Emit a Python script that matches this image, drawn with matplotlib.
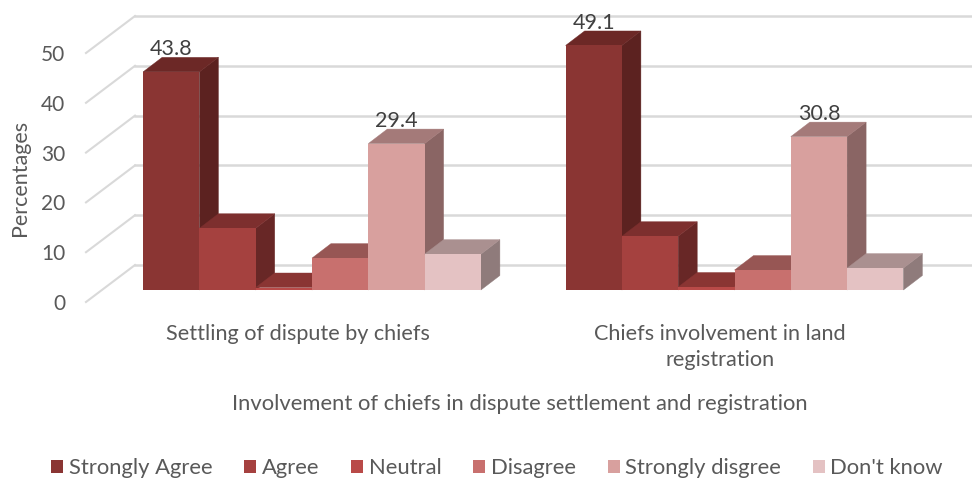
import numpy as np
import matplotlib
matplotlib.use("Agg")
import matplotlib.pyplot as plt
from matplotlib.patches import Polygon, Patch

plt.rcParams['font.family'] = ['Lato', 'DejaVu Sans']

categories = ['Settling of dispute by chiefs', 'Chiefs involvement in land\nregistration']
series = ['Strongly Agree', 'Agree', 'Neutral', 'Disagree', 'Strongly disgree', "Don't know"]
values = [
    [43.8, 49.1],
    [12.4, 10.8],
    [0.5, 0.6],
    [6.4, 4.0],
    [29.4, 30.8],
    [7.2, 4.4],
]
labelled = ['Strongly Agree', 'Strongly disgree']
y_ticks = [0, 10, 20, 30, 40, 50]

front_colors = ['#8a3533', '#a5413f', '#b94a48', '#c8706e', '#d8a09e', '#e4c2c3']
top_colors = ['#6c2826', '#7d2f2e', '#8a3533', '#975654', '#a47a79', '#aa9090']
side_colors = ['#5c2220', '#682726', '#7a2f2d', '#8a4f4d', '#8a6564', '#8f7b7b']
text_color = '#595959'
grid_color = '#d9d9d9'

W, H = 972, 479
# pixel frame of the axes: value 0 on the bar plane is y=290, 4.98 px per unit
left, right, y_base, y_bottom, y_top = 86, 972, 290, 306, 10
px_per_unit = 4.98
group_step = 422.5
bar_w = 56.3 / group_step
centre0 = (312 - left) / group_step
xlim = (-centre0, (right - left) / group_step - centre0)
ylim = (-(y_bottom - y_base) / px_per_unit, (y_base - y_top) / px_per_unit)

# 3d offsets in data units
bar_dx, bar_dy = 19 / group_step, 14.5 / px_per_unit
wall_dx, wall_back, wall_front = 49 / group_step, 5.02, -2.41
label_shift = 14.5 / group_step

fig = plt.figure(figsize=(W / 100, H / 100), dpi=100)
ax = fig.add_axes([left / W, 1 - y_bottom / H, (right - left) / W, (y_bottom - y_top) / H])
for s in ax.spines.values():
    s.set_visible(False)

# walls
for t in y_ticks:
    ax.plot([xlim[0], xlim[0] + wall_dx], [t + wall_front, t + wall_back],
            color=grid_color, lw=1.5, clip_on=False, zorder=1)
    ax.plot([xlim[0] + wall_dx, xlim[1]], [t + wall_back, t + wall_back],
            color=grid_color, lw=1.8, clip_on=False, zorder=1)

# bars
z = 2
for g in range(len(categories)):
    for i, name in enumerate(series):
        v = values[i][g]
        x = g + (i - 3) * bar_w
        ax.add_patch(Polygon([(x + bar_w, 0), (x + bar_w + bar_dx, bar_dy),
                              (x + bar_w + bar_dx, v + bar_dy), (x + bar_w, v)],
                             fc=side_colors[i], ec=side_colors[i], lw=0.3, clip_on=False, zorder=z))
        ax.add_patch(Polygon([(x, v), (x + bar_dx, v + bar_dy),
                              (x + bar_w + bar_dx, v + bar_dy), (x + bar_w, v)],
                             fc=top_colors[i], ec=top_colors[i], lw=0.3, clip_on=False, zorder=z))
        ax.bar(x, v, bar_w, align='edge', color=front_colors[i], zorder=z, clip_on=False)
        if name in labelled:
            ax.text(x + bar_w / 2, v + bar_dy - 0.4, f'{v}', ha='center', va='bottom',
                    fontsize=15.5, color='#404040', zorder=20, clip_on=False)
        z += 1

ax.set_xticks([g - label_shift for g in range(len(categories))])
ax.set_xticklabels(categories, fontsize=15.6, color=text_color, linespacing=1.35)
ax.set_yticks([t + wall_front for t in y_ticks])
ax.set_yticklabels(y_ticks, fontsize=15, color=text_color)
ax.tick_params(axis='x', length=0, pad=13.2)
ax.tick_params(axis='y', length=0, pad=15)
# ticks widen the view, so the limits go last
ax.set_xlim(*xlim)
ax.set_ylim(*ylim)

fig.text(520 / W, 1 - 404 / H, 'Involvement of chiefs in dispute settlement and registration',
         ha='center', va='center', fontsize=15.8, color=text_color)
fig.text(20 / W, 1 - 178 / H, 'Percentages', rotation=90, ha='center', va='center',
         fontsize=15.5, color=text_color)

handles = [Patch(fc=c, ec='none') for c in front_colors]
fig.legend(handles, series, loc='center', bbox_to_anchor=(497 / W, 1 - 468 / H), ncol=6,
           frameon=False, fontsize=15.8, labelcolor=text_color, handlelength=0.55,
           handleheight=0.55, handletextpad=0.25, columnspacing=1.45, borderpad=0, borderaxespad=0)

fig.savefig('out.png', dpi=100)
